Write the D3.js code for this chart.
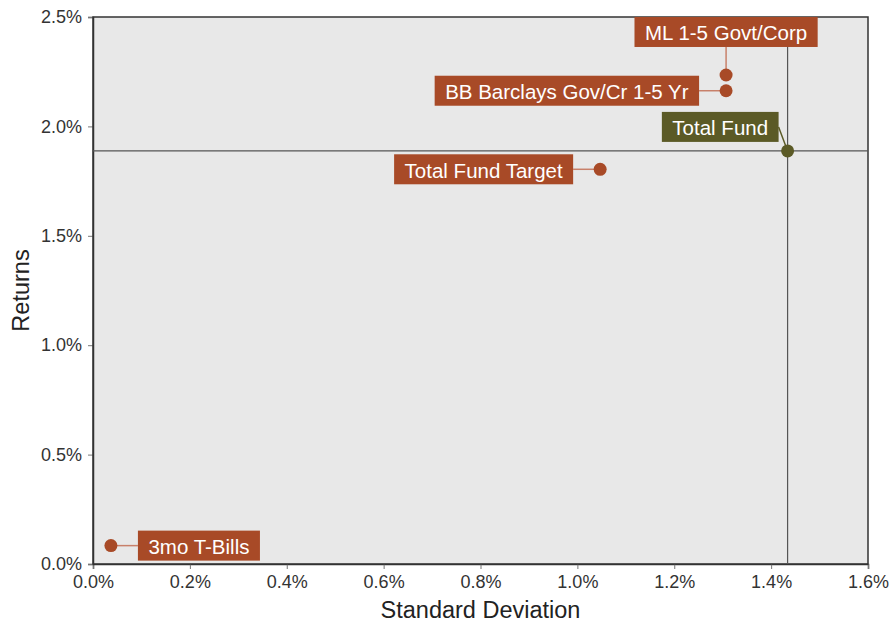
<!DOCTYPE html>
<html>
<head>
<meta charset="utf-8">
<script src="https://cdn.jsdelivr.net/npm/d3@7"></script>
<style>
  body { margin: 0; background: #fff; }
  svg text { font-family: "Liberation Sans", Arial, sans-serif; }
</style>
</head>
<body>
<svg id="chart"></svg>
<script>
// values (percent)
const names = ['ML 1-5 Govt/Corp', 'BB Barclays Gov/Cr 1-5 Yr', 'Total Fund', 'Total Fund Target', '3mo T-Bills'];
const stdDev = [1.307, 1.307, 1.434, 1.047, 0.037];
const returns = [2.235, 2.163, 1.888, 1.804, 0.084];
const isFund = [false, false, true, false, false];
const xTicks = [0, 0.2, 0.4, 0.6, 0.8, 1.0, 1.2, 1.4, 1.6];
const yTicks = [0, 0.5, 1.0, 1.5, 2.0, 2.5];

// where each label box sits relative to its point
const labelPlace = [
  { anchor: 'middle', dx: 0, dy: -28 },
  { anchor: 'end', dx: -27, dy: 0 },
  { anchor: 'end', dx: -9, dy: -24 },
  { anchor: 'end', dx: -27, dy: 0 },
  { anchor: 'start', dx: 27, dy: 0 }
];

const width = 893, height = 623;
const margin = { top: 17, right: 25, bottom: 59, left: 93 };
const rust = '#a84a27', olive = '#5b5a26';

const svg = d3.select('#chart').attr('width', width).attr('height', height);

const x = d3.scaleLinear().domain([0, 1.6]).range([margin.left, width - margin.right]);
const y = d3.scaleLinear().domain([0, 2.5]).range([height - margin.bottom, margin.top]);

// plot background
svg.append('rect')
  .attr('x', x(0)).attr('y', y(2.5))
  .attr('width', x(1.6) - x(0)).attr('height', y(0) - y(2.5))
  .attr('fill', '#e8e8e8');

// axes
const xAxis = svg.append('g')
  .attr('transform', `translate(0,${y(0)})`)
  .call(d3.axisBottom(x).tickValues(xTicks).tickFormat(d => d.toFixed(1) + '%').tickSizeOuter(0).tickSize(5).tickPadding(6));
const yAxis = svg.append('g')
  .attr('transform', `translate(${x(0)},0)`)
  .call(d3.axisLeft(y).tickValues(yTicks).tickFormat(d => d.toFixed(1) + '%').tickSizeOuter(0).tickSize(5).tickPadding(6));
[xAxis, yAxis].forEach(a => {
  a.select('.domain').attr('stroke', '#333').attr('stroke-width', 1.5);
  a.selectAll('.tick line').attr('stroke', '#777');
  a.selectAll('.tick text').attr('fill', '#333').style('font-size', '18px');
});

// frame top and right
svg.append('rect')
  .attr('x', x(0)).attr('y', y(2.5))
  .attr('width', x(1.6) - x(0)).attr('height', y(0) - y(2.5))
  .attr('fill', 'none').attr('stroke', '#333').attr('stroke-width', 1.5);

// reference lines through Total Fund
const fi = isFund.indexOf(true);
svg.append('line')
  .attr('x1', x(stdDev[fi])).attr('x2', x(stdDev[fi]))
  .attr('y1', y(2.5)).attr('y2', y(0))
  .attr('stroke', '#555').attr('stroke-width', 1.2);
svg.append('line')
  .attr('x1', x(0)).attr('x2', x(1.6))
  .attr('y1', y(returns[fi])).attr('y2', y(returns[fi]))
  .attr('stroke', '#555').attr('stroke-width', 1.2);

// axis titles
svg.append('text')
  .attr('x', (x(0) + x(1.6)) / 2).attr('y', 618)
  .attr('text-anchor', 'middle').attr('fill', '#222')
  .style('font-size', '23.5px').text('Standard Deviation');
svg.append('text')
  .attr('transform', `translate(29,${(y(0) + y(2.5)) / 2}) rotate(-90)`)
  .attr('text-anchor', 'middle').attr('fill', '#222')
  .style('font-size', '23.5px').text('Returns');

// points and labels
const pts = names.map((n, i) => ({ name: n, sx: stdDev[i], ry: returns[i], fund: isFund[i], place: labelPlace[i] }));

const g = svg.append('g');
pts.forEach(d => {
  const px = x(d.sx), py = y(d.ry);
  const col = d.fund ? olive : rust;
  const ax = px + d.place.dx, ay = py + d.place.dy;

  g.append('line')
    .attr('x1', px).attr('y1', py).attr('x2', ax).attr('y2', ay)
    .attr('stroke', d.fund ? olive : '#c8806a').attr('stroke-width', 1.5);
  g.append('circle')
    .attr('cx', px).attr('cy', py).attr('r', 6.5).attr('fill', col);

  const lg = g.append('g');
  const rect = lg.append('rect').attr('fill', col);
  const t = lg.append('text')
    .attr('fill', '#fff').style('font-size', '20.5px')
    .attr('dominant-baseline', 'central')
    .text(d.name);
  const w = t.node().getComputedTextLength() + 21;
  const h = 30;
  let bx, by;
  if (d.place.anchor === 'end') { bx = ax - w; by = ay - h / 2; }
  else if (d.place.anchor === 'start') { bx = ax; by = ay - h / 2; }
  else { bx = ax - w / 2; by = ay - h; }
  rect.attr('x', bx).attr('y', by).attr('width', w).attr('height', h);
  t.attr('x', bx + 10.5).attr('y', by + h / 2 + 1);
});
</script>
</body>
</html>
